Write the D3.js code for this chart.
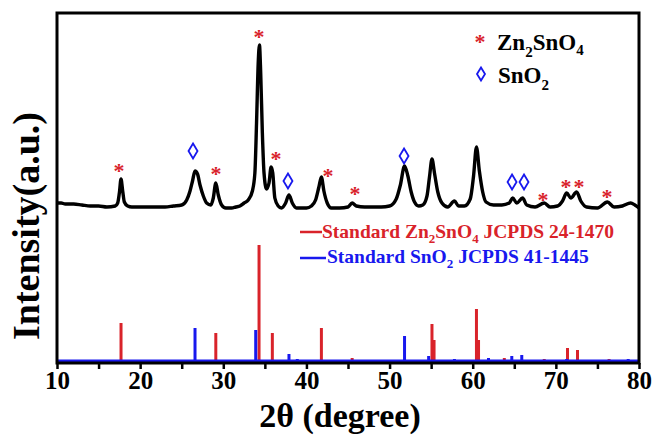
<!DOCTYPE html>
<html><head><meta charset="utf-8">
<script src="https://cdn.jsdelivr.net/npm/d3@7"></script>
<style>
body{margin:0;background:#fff}
svg{display:block}
text{font-family:"Liberation Serif","Times New Roman",serif;font-weight:bold}
</style>
</head><body><svg id="c" width="654" height="435"></svg>
<script>
// ---- data ----
const xTickValues = [10,20,30,40,50,60,70,80];
const xMinorTicks = [15,25,35,45,55,65,75];

const scanAngle = [10,10.5,11,12,13,14,15,16,17,17.3,17.5,17.7,17.9,18.1,18.5,19,20,21,22,23,24,25,25.6,26.0,26.3,26.6,26.9,27.2,27.6,28.0,28.5,28.8,29.1,29.4,29.8,30.3,31,31.5,32,32.5,33,33.5,33.8,34.0,34.2,34.35,34.5,34.7,34.9,35.2,35.5,35.75,35.95,36.2,36.6,37.0,37.5,37.9,38.3,38.8,39.5,40,40.6,41.1,41.5,41.8,42.1,42.5,43,44,45,45.5,46,47,48,49,50,50.8,51.3,51.8,52.2,52.6,53,53.5,54,54.5,54.8,55.1,55.4,55.8,56.3,57,57.8,58.3,59,59.7,60.1,60.45,60.8,61.2,61.6,62.5,63.5,64.4,64.8,65.3,66.0,66.5,67.5,68.6,69.3,70.2,70.8,71.3,71.8,72.5,73.0,73.7,75,76.2,77,78,79,79.5,80];
const scanIntensity = [160,160,159,159,158,157,157,156,157,160,170,184,172,161,157,156,156,156,156,156,157,158,163,172,182,192,189,178,167,160,158,165,180,168,158,155,155,156,157,160,163,172,190,240,300,318,290,230,190,174,180,196,190,165,157,155,160,168,160,155,155,155,157,163,176,186,172,160,155,155,156,160,157,156,156,156,157,164,178,197,187,171,161,157,158,167,186,204,190,171,160,156,162,157,157,164,187,216,192,171,161,158,158,160,165,160,165,158,156,160,156,157,162,170,165,171,162,156,155,161,156,157,160,158,155];

// Standard Zn2SnO4 JCPDS 24-1470
const znStdAngle  = [17.7,29.1,34.3,35.9,41.8,45.5,55.1,55.35,60.45,60.7,63.8,68.6,71.4,72.6,76.4];
const znStdHeight = [40,30,118,30,35,5,39,23,54,23,5,4,15,13,4];
// Standard SnO2 JCPDS 41-1445
const snStdAngle  = [26.6,33.9,37.9,38.9,51.8,54.7,57.8,61.9,64.7,65.9,71.3,78.7];
const snStdHeight = [35,33,9,4,27,7,4,5,7,8,4,4];

// peak markers
const znMarkAngle = [17.46,29.12,34.3,36.34,42.6,45.84,68.46,71.22,72.79,76.15];
const znMarkLevel = [196,193,330,208,191,173,167,180,180,170];
const snMarkAngle = [26.36,37.78,51.74,64.73,66.17];
const snMarkLevel = [212,182,207,181,181];

const RED = "#d9232a", BLUE = "#1818ee";

// ---- chart ----
const svg = d3.select("#c");
const L = 57, R = 639, T = 13, B = 363;
const x = d3.scaleLinear().domain([10,80]).range([L,R]);
const y = d3.scaleLinear().domain([0,350]).range([B,T]);

// standard bars
const base = 2;
svg.append("g").selectAll("line").data(znStdAngle).join("line")
  .attr("x1", d=>x(d)).attr("x2", d=>x(d))
  .attr("y1", y(base)).attr("y2", (d,i)=>y(znStdHeight[i]))
  .attr("stroke", RED).attr("stroke-width", 3);
svg.append("g").selectAll("line").data(snStdAngle).join("line")
  .attr("x1", d=>x(d)).attr("x2", d=>x(d))
  .attr("y1", y(base)).attr("y2", (d,i)=>y(snStdHeight[i]))
  .attr("stroke", BLUE).attr("stroke-width", 3);
svg.append("line").attr("x1", L).attr("x2", R).attr("y1", y(base)).attr("y2", y(base))
  .attr("stroke", BLUE).attr("stroke-width", 3);

// scan curve
const pts = scanAngle.map((a,i)=>[a, scanIntensity[i]]);
svg.append("path").datum(pts)
  .attr("d", d3.line().x(d=>x(d[0])).y(d=>y(d[1])).curve(d3.curveMonotoneX))
  .attr("fill","none").attr("stroke","#000").attr("stroke-width",3.4).attr("stroke-linejoin","round");

// markers
svg.append("g").selectAll("text").data(znMarkAngle).join("text")
  .attr("x", d=>x(d)).attr("y", (d,i)=>y(znMarkLevel[i]) + 11)
  .attr("text-anchor","middle").attr("font-size",22).attr("fill",RED).text("*");
const diamond = (cx, cy, w, h) => `M${cx},${cy-h/2}L${cx+w/2},${cy}L${cx},${cy+h/2}L${cx-w/2},${cy}Z`;
svg.append("g").selectAll("path").data(snMarkAngle).join("path")
  .attr("d", (d,i)=>diamond(x(d), y(snMarkLevel[i]), 9, 15))
  .attr("fill","none").attr("stroke",BLUE).attr("stroke-width",1.8);

// axis
const xAxis = svg.append("g").attr("transform",`translate(0,${B})`)
  .call(d3.axisBottom(x).tickValues(xTickValues).tickSize(6).tickPadding(2).tickFormat(d3.format("d")));
xAxis.select(".domain").remove();
xAxis.selectAll("line").attr("stroke","#000").attr("stroke-width",2.5);
xAxis.selectAll("text").attr("font-size",25).attr("fill","#000")
  .attr("font-family","Liberation Serif, Times New Roman, serif").attr("font-weight","bold");
svg.append("g").attr("transform",`translate(0,${B})`)
  .call(d3.axisBottom(x).tickValues(xMinorTicks).tickSize(6).tickFormat(""))
  .call(g=>g.select(".domain").remove())
  .selectAll("line").attr("stroke","#000").attr("stroke-width",2.5);

// frame
svg.append("rect").attr("x",L).attr("y",T).attr("width",R-L).attr("height",B-T)
  .attr("fill","none").attr("stroke","#000").attr("stroke-width",3);

// titles
svg.append("text").attr("x",340).attr("y",427).attr("text-anchor","middle")
  .attr("font-size",34).attr("fill","#000").text("2θ (degree)");
svg.append("text").attr("transform","translate(39,226) rotate(-90)").attr("text-anchor","middle")
  .attr("font-size",38).attr("fill","#000").text("Intensity(a.u.)");

// legend (top right)
svg.append("text").attr("x",480).attr("y",49).attr("text-anchor","middle")
  .attr("font-size",22).attr("fill",RED).text("*");
const t1 = svg.append("text").attr("x",497).attr("y",50).attr("font-size",23).attr("fill","#000");
t1.append("tspan").text("Zn");
t1.append("tspan").attr("font-size",15).attr("dy",7).text("2");
t1.append("tspan").attr("dy",-7).text("SnO");
t1.append("tspan").attr("font-size",15).attr("dy",5).text("4");
svg.append("path").attr("d", diamond(481,74,8,13)).attr("fill","none").attr("stroke",BLUE).attr("stroke-width",1.8);
const t2 = svg.append("text").attr("x",498).attr("y",83).attr("font-size",23).attr("fill","#000");
t2.append("tspan").text("SnO");
t2.append("tspan").attr("font-size",15).attr("dy",7).text("2");

// standard legend
svg.append("line").attr("x1",300).attr("x2",322).attr("y1",232).attr("y2",232).attr("stroke",RED).attr("stroke-width",2.5);
const s1 = svg.append("text").attr("x",322).attr("y",238).attr("font-size",19.5).attr("fill",RED);
s1.append("tspan").text("Standard Zn");
s1.append("tspan").attr("font-size",13).attr("dy",5).text("2");
s1.append("tspan").attr("dy",-5).text("SnO");
s1.append("tspan").attr("font-size",13).attr("dy",5).text("4");
s1.append("tspan").attr("dy",-5).text(" JCPDS 24-1470");
svg.append("line").attr("x1",300).attr("x2",326).attr("y1",258).attr("y2",258).attr("stroke",BLUE).attr("stroke-width",2.5);
const s2 = svg.append("text").attr("x",327).attr("y",263).attr("font-size",19.5).attr("fill",BLUE);
s2.append("tspan").text("Standard SnO");
s2.append("tspan").attr("font-size",13).attr("dy",5).text("2");
s2.append("tspan").attr("dy",-5).text(" JCPDS 41-1445");
</script>
</body></html>
